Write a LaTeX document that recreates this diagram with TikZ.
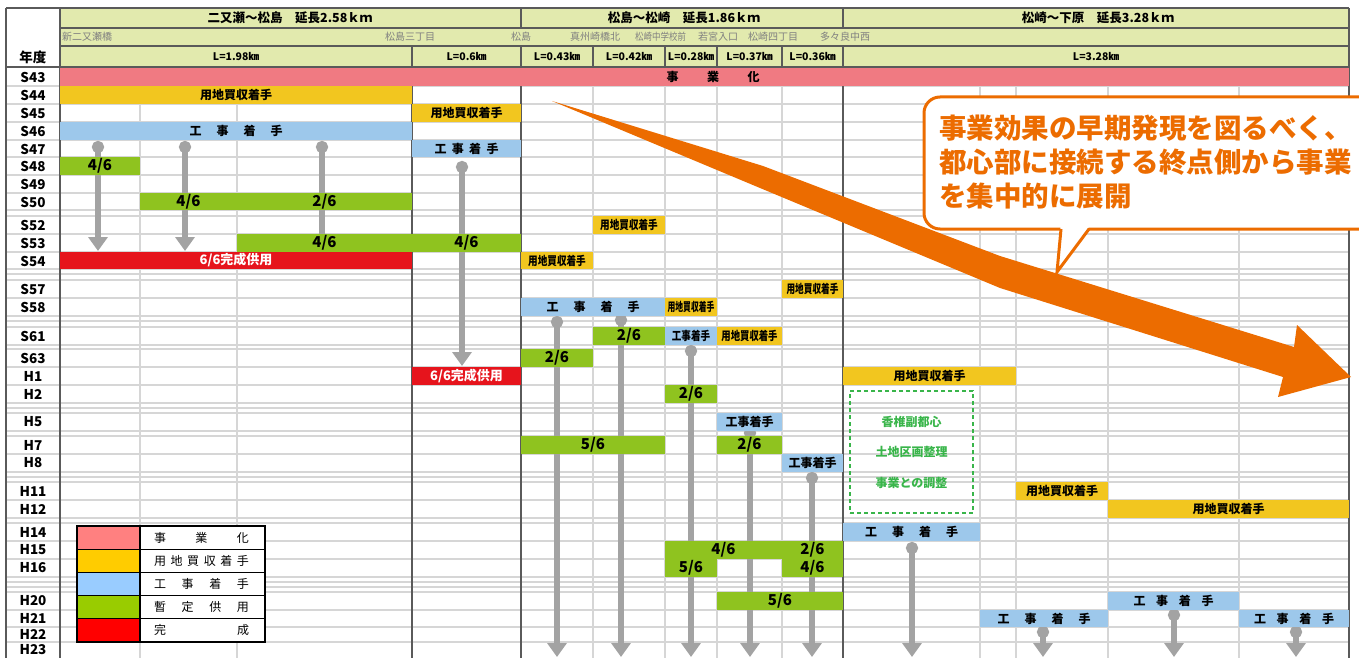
\documentclass[tikz,border=0pt]{standalone}
\usepackage{fontspec}
\usepackage{graphicx}
\setmainfont{Noto Sans CJK JP}
\usetikzlibrary{arrows.meta}

\definecolor{chead}{HTML}{E2EAAE}
\definecolor{cframe}{HTML}{5A5A5A}
\definecolor{cgrid}{HTML}{D6D6D6}
\definecolor{cstation}{HTML}{808080}
\definecolor{cjigyo}{HTML}{F07A82}
\definecolor{cyochi}{HTML}{F2C61F}
\definecolor{ckoji}{HTML}{9DC8EB}
\definecolor{czantei}{HTML}{8FC31F}
\definecolor{ckansei}{HTML}{E6141C}
\definecolor{cprog}{HTML}{A3A3A3}
\definecolor{corange}{HTML}{EC6C00}
\definecolor{cadjust}{HTML}{39B54A}
\definecolor{lgjigyo}{HTML}{FF8080}
\definecolor{lgyochi}{HTML}{FFCC00}
\definecolor{lgkoji}{HTML}{99CCFF}
\definecolor{lgzantei}{HTML}{99CC00}
\definecolor{lgkansei}{HTML}{FF0000}

\newcommand{\spaced}[2]{\makebox[#1][s]{#2}}
\newcommand{\narrow}[2]{\scalebox{#1}[1]{#2}}

\tikzset{
  bar/.style={rectangle, inner sep=0pt, minimum height=17.5pt, font=\bfseries\fontsize{12}{12}\selectfont},
  jigyo/.style={bar, fill=cjigyo},
  yochi/.style={bar, fill=cyochi},
  koji/.style={bar, fill=ckoji},
  zantei/.style={bar, fill=czantei, font=\bfseries\fontsize{15}{15}\selectfont},
  kansei/.style={bar, fill=ckansei, text=white, font=\bfseries\fontsize{13}{13}\selectfont},
  nendo/.style={font=\bfseries\fontsize{13.5}{13.5}\selectfont},
  section/.style={font=\bfseries\fontsize{12.5}{12.5}\selectfont},
  station/.style={anchor=west, inner sep=0pt, text=cstation, font=\fontsize{10}{10}\selectfont},
  length/.style={font=\bfseries\fontsize{10.5}{10.5}\selectfont},
  prog/.style={draw=cprog, line width=5.5pt, {Circle[length=12pt,width=12pt]}-{Triangle[width=19pt,length=14pt]}},
  progstop/.style={draw=cprog, line width=5.5pt, {Circle[length=12pt,width=12pt]}-},
  gridline/.style={draw=cgrid, line width=1.5pt},
  frameline/.style={draw=cframe, line width=1.3pt},
  legendline/.style={draw=black, line width=1.3pt},
  chosei/.style={draw=cadjust, line width=1.6pt, dash pattern=on 4pt off 3pt},
}

\begin{document}
\begin{tikzpicture}[x=1pt,y=-1pt]
\useasboundingbox (0,0) rectangle (1359,658);

% header and grid
\fill[chead] (60,8) rectangle (1349,67);
\foreach \yy in {86,104,122,140,157,175,193,210,216,234,252,269,274,280,298,316,321,327,345,349,367,385,403,408,413,431,436,454,472,477,482,500,518,523,541,559,577,582,587,592,610,627,642}
  \draw[gridline] (6,\yy) -- (1349,\yy);
\foreach \xx in {140,237,593,665,717,782,980,1016,1108,1239}
  \draw[gridline] (\xx,67) -- (\xx,658);
\foreach \xx in {412,521,843}
  \draw[frameline] (\xx,67) -- (\xx,658);
\draw[frameline] (6,8) -- (1349,8) (60,28) -- (1349,28) (60,46) -- (1349,46) (6,67) -- (1349,67);
\draw[frameline] (6,8) -- (6,658) (60,8) -- (60,658) (1349,8) -- (1349,658);
\draw[frameline] (521,8) -- (521,28) (843,8) -- (843,28);
\foreach \xx in {412,521,593,665,717,782,843}
  \draw[frameline] (\xx,46) -- (\xx,67);

\node[nendo] (nendo) at (33,57) {年度};
\node[section] (sec1) at (290,18) {二又瀬～松島　延長2.58ｋｍ};
\node[section] (sec2) at (684,18) {松島～松崎　延長1.86ｋｍ};
\node[section] (sec3) at (1098,18) {松崎～下原　延長3.28ｋｍ};

\node[station] (st1) at (62,37) {新二又瀬橋};
\node[station] (st2) at (385,37) {松島三丁目};
\node[station] (st3) at (511,37) {松島};
\node[station] (st4) at (570,37) {真州崎橋北};
\node[station] (st5) at (635,37) {\narrow{0.85}{松崎中学校前}};
\node[station] (st6) at (698,37) {若宮入口};
\node[station] (st7) at (748,37) {松崎四丁目};
\node[station] (st8) at (820,37) {多々良中西};

\node[length] (l1) at (236,57) {L=1.98㎞};
\node[length] (l2) at (466.5,57) {L=0.6㎞};
\node[length] (l3) at (557,57) {L=0.43㎞};
\node[length] (l4) at (629,57) {L=0.42㎞};
\node[length] (l5) at (691,57) {L=0.28㎞};
\node[length] (l6) at (749.5,57) {L=0.37㎞};
\node[length] (l7) at (812.5,57) {L=0.36㎞};
\node[length] (l8) at (1096,57) {L=3.28㎞};

\foreach \yr/\yy in {S43/77,S44/95,S45/113,S46/131,S47/149,S48/166,S49/184,S50/202,S52/225,S53/243,S54/261,S57/289,S58/307,S61/336,S63/358,H1/376,H2/394,H5/422,H7/445,H8/463,H11/491,H12/509,H14/532,H15/550,H16/568,H20/601,H21/618,H22/634,H23/650}
  \node[nendo] (y\yr) at (33,\yy) {\yr};

% progress arrows
\foreach \nm/\xx/\ya/\yb in {a1/98/141/251,a2/185/141/251,a4/462/161/366,a5/557/316/657,a6/621/314/657,a7/691/345/657,a8/750/427/657,a9/812/472/657,a10/912/542/657,a11/1043/626/657,a12/1174/609/657,a13/1296/626/657}
{
  \coordinate (\nm-s) at (\xx,\ya);
  \coordinate (\nm-e) at (\xx,\yb);
  \draw[prog] (\nm-s) -- (\nm-e);
}
\coordinate (a3-s) at (322,141);
\coordinate (a3-e) at (322,236);
\draw[progstop] (a3-s) -- (a3-e);

% bars
\node[jigyo, minimum width=1289pt] (b43) at (704.5,77) {};
\node[bar] (t43) at (713,77) {\spaced{93pt}{事\hfill 業\hfill 化}};
\node[yochi, minimum width=352pt] (b44) at (236,95) {用地買収着手};
\node[yochi, minimum width=109pt] (b45) at (466.5,113) {用地買収着手};
\node[koji, minimum width=352pt] (b46) at (236,131) {\spaced{93pt}{工\hfill 事\hfill 着\hfill 手}};
\node[koji, minimum width=109pt] (b47) at (466.5,148.5) {\spaced{64pt}{工\hfill 事\hfill 着\hfill 手}};
\node[zantei, minimum width=80pt] (b48) at (100,166) {4/6};
\node[zantei, minimum width=97pt] (b50a) at (188.5,201.5) {4/6};
\node[zantei, minimum width=175pt] (b50b) at (324.5,201.5) {2/6};
\node[yochi, minimum width=72pt] (b52) at (629,225) {\narrow{0.8}{用地買収着手}};
\node[zantei, minimum width=175pt] (b53a) at (324.5,243) {4/6};
\node[zantei, minimum width=109pt] (b53b) at (466.5,243) {4/6};
\node[kansei, minimum width=352pt] (b54a) at (236,260.5) {6/6完成供用};
\node[yochi, minimum width=72pt] (b54b) at (557,260.5) {\narrow{0.8}{用地買収着手}};
\node[yochi, minimum width=61pt] (b57) at (812.5,289) {\narrow{0.72}{用地買収着手}};
\node[koji, minimum width=144pt] (b58a) at (593,307) {\spaced{93pt}{工\hfill 事\hfill 着\hfill 手}};
\node[yochi, minimum width=52pt] (b58b) at (691,307) {\narrow{0.65}{用地買収着手}};
\node[zantei, minimum width=72pt] (b61a) at (629,336) {2/6};
\node[koji, minimum width=52pt] (b61b) at (691,336) {\narrow{0.8}{工事着手}};
\node[yochi, minimum width=65pt] (b61c) at (749.5,336) {\narrow{0.78}{用地買収着手}};
\node[zantei, minimum width=72pt] (b63) at (557,358) {2/6};
\node[kansei, minimum width=109pt] (b1a) at (466.5,376) {6/6完成供用};
\node[yochi, minimum width=173pt] (b1b) at (929.5,376) {用地買収着手};
\node[zantei, minimum width=52pt] (b2) at (691,394) {2/6};
\node[koji, minimum width=65pt] (b5) at (749.5,422) {工事着手};
\node[zantei, minimum width=144pt] (b7a) at (593,445) {5/6};
\node[zantei, minimum width=65pt] (b7b) at (749.5,445) {2/6};
\node[koji, minimum width=61pt] (b8) at (812.5,463) {工事着手};
\node[yochi, minimum width=92pt] (b11) at (1062,491) {用地買収着手};
\node[yochi, minimum width=241pt] (b12) at (1228.5,509) {用地買収着手};
\node[koji, minimum width=137pt] (b14) at (911.5,532) {\spaced{93pt}{工\hfill 事\hfill 着\hfill 手}};
\node[zantei, minimum width=117pt] (b15a) at (723.5,550) {4/6};
\node[zantei, minimum width=61pt] (b15b) at (812.5,550) {2/6};
\node[zantei, minimum width=52pt] (b16a) at (691,568) {5/6};
\node[zantei, minimum width=61pt] (b16b) at (812.5,568) {4/6};
\node[zantei, minimum width=126pt] (b20a) at (780,601) {5/6};
\node[koji, minimum width=131pt] (b20b) at (1173.5,601) {\spaced{80pt}{工\hfill 事\hfill 着\hfill 手}};
\node[koji, minimum width=128pt] (b21a) at (1044,618.5) {\spaced{93pt}{工\hfill 事\hfill 着\hfill 手}};
\node[koji, minimum width=110pt] (b21b) at (1294,618.5) {\spaced{80pt}{工\hfill 事\hfill 着\hfill 手}};

% coordination with land readjustment
\node[chosei, minimum width=123pt, minimum height=122pt, align=center, text=cadjust,
  font=\bfseries\fontsize{12}{30.5}\selectfont] (adjust) at (911.5,452) {香椎副都心\\土地区画整理\\事業との調整};

% legend
\foreach \yy/\col/\txt in {526/lgjigyo/{事\hfill 業\hfill 化},549.2/lgyochi/{用\hfill 地\hfill 買\hfill 収\hfill 着\hfill 手},572.4/lgkoji/{工\hfill 事\hfill 着\hfill 手},595.6/lgzantei/{暫\hfill 定\hfill 供\hfill 用},618.8/lgkansei/{完\hfill 成}}
{
  \draw[legendline, fill=\col] (77,\yy) rectangle (140,\yy+23.2);
  \draw[legendline, fill=white] (140,\yy) rectangle (265,\yy+23.2);
  \node[font=\fontsize{12}{12}\selectfont] (lg\col) at (201.5,\yy+11.6) {\spaced{95pt}{\txt}};
}

% big orange arrow
\fill[corange] (552,101) -- (763,166) -- (1000,256) -- (1294,347)
  -- (1297,325) -- (1351,377) -- (1278,397)
  -- (1283,377) -- (1000,288) -- (760,188) -- cycle;

% callout
\draw[corange, line width=3pt, fill=white, rounded corners=16pt] (924,97) rectangle (1380,229);
\fill[white] (1060.5,226) -- (1057,271) -- (1089.5,226) -- cycle;
\coordinate (tail-l) at (1061,229);
\coordinate (tail-r) at (1089,229);
\coordinate (tail-tip) at (1057,272);
\draw[corange, line width=3pt, line join=miter] (tail-l) -- (tail-tip) -- (tail-r);
\node[anchor=west, align=left, inner sep=0pt, text=corange, font=\bfseries\fontsize{27.5}{34}\selectfont] (msg) at (939,162)
  {事業効果の早期発現を図るべく、\\都心部に接続する終点側から事業\\を集中的に展開};
\end{tikzpicture}
\end{document}
